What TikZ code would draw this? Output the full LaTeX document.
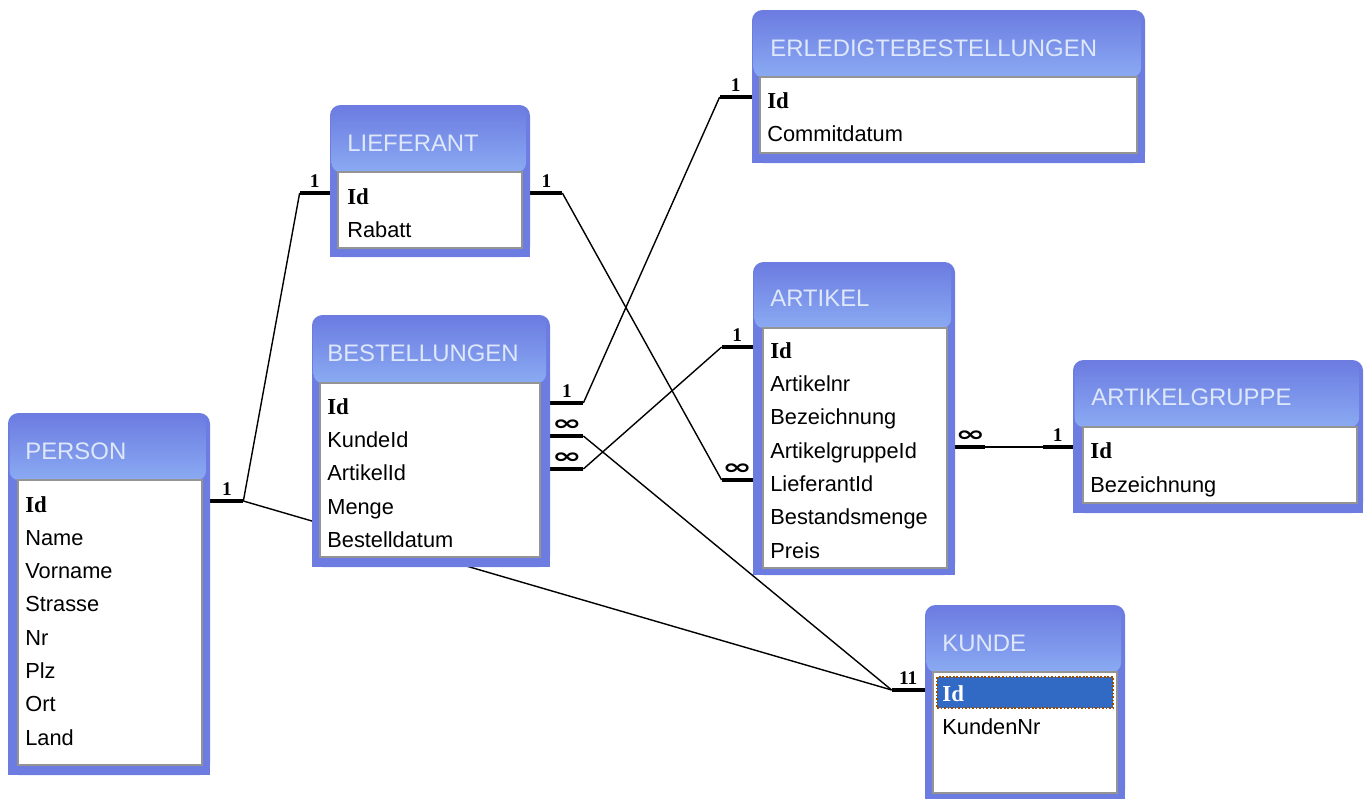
\documentclass[tikz,border=0pt]{standalone}
\usepackage{fontspec}
\setmainfont{Liberation Sans}
\newfontfamily\idfont{Liberation Serif}
\newfontfamily\manyfont{DejaVu Sans}
\usetikzlibrary{fit}
\usetikzlibrary{positioning}
\pgfdeclarelayer{background}
\pgfsetlayers{background,main}
\definecolor{tbody}{RGB}{108,124,225}
\definecolor{ttitle}{RGB}{138,170,242}
\definecolor{ttext}{RGB}{222,232,250}
\definecolor{tsel}{RGB}{49,106,197}
\tikzset{
    tablebox/.style = {inner sep=0pt, fill=tbody, rounded corners=6pt},
    titleband/.style = {rounded corners=5pt, top color=tbody, bottom color=ttitle},
    listbox/.style = {inner sep=0pt, fill=white, draw=black!42, line width=1.2pt},
    selbox/.style = {inner sep=0pt, fill=tsel, draw=orange!60!black, densely dotted, line width=1pt},
    tabletitle/.style = {anchor=west, inner sep=0pt, text height=9.7pt, text depth=0pt, font=\fontsize{13.6}{14}\selectfont, text=ttext},
    field/.style = {anchor=west, inner sep=0pt, text height=12.6pt, text depth=0pt, font=\fontsize{12.4}{13}\selectfont},
    keyfield/.style = {field, font=\idfont\bfseries\fontsize{13}{14}\selectfont},
    stub/.style = {line width=2.8pt},
    relline/.style = {line width=0.8pt},
    one/.style = {above=1.5pt, inner sep=0pt, font=\idfont\bfseries\fontsize{11}{11}\selectfont},
    many/.style = {above=2pt, inner sep=0pt, font=\manyfont\bfseries\fontsize{15}{15}\selectfont}
}
\newcommand{\manysign}{\scalebox{1.35}[0.8]{∞}}
\begin{document}
\begin{tikzpicture}[x=0.02cm, y=-0.02cm]
\useasboundingbox (0,0) rectangle (1368,798);
%
% PERSON
\node[tablebox, fit={(8,413) (210,775)}] (person) {};
\fill[tbody] (person.west) rectangle (person.south east);
\shade[titleband] ([shift={(2,2)}]person.north west) rectangle (206,480);
\node[listbox, fit={(18,480) (202,765)}] (person-list) {};
\node[tabletitle] (person-title) at (25,451) {PERSON};
\node[keyfield] (person-id) at (25,501) {Id};
\node[field] (person-name) at (25,534) {Name};
\node[field] (person-vorname) at (25,567) {Vorname};
\node[field] (person-strasse) at (25,600) {Strasse};
\node[field] (person-nr) at (25,634) {Nr};
\node[field] (person-plz) at (25,667) {Plz};
\node[field] (person-ort) at (25,700) {Ort};
\node[field] (person-land) at (25,734) {Land};
%
% LIEFERANT
\node[tablebox, fit={(330,105) (530,257)}] (lief) {};
\fill[tbody] (lief.west) rectangle (lief.south east);
\shade[titleband] ([shift={(2,2)}]lief.north west) rectangle (526,172);
\node[listbox, fit={(338,172) (522,248)}] (lief-list) {};
\node[tabletitle] (lief-title) at (347,143) {LIEFERANT};
\node[keyfield] (lief-id) at (347,193) {Id};
\node[field] (lief-rabatt) at (347,226) {Rabatt};
%
% BESTELLUNGEN
\node[tablebox, fit={(312,315) (550,567)}] (best) {};
\fill[tbody] (best.west) rectangle (best.south east);
\shade[titleband] ([shift={(2,2)}]best.north west) rectangle (546,383);
\node[listbox, fit={(320,383) (540,557)}] (best-list) {};
\node[tabletitle] (best-title) at (327,353) {BESTELLUNGEN};
\node[keyfield] (best-id) at (327,403) {Id};
\node[field] (best-kundeid) at (327,436) {KundeId};
\node[field] (best-artikelid) at (327,469) {ArtikelId};
\node[field] (best-menge) at (327,503) {Menge};
\node[field] (best-datum) at (327,536) {Bestelldatum};
%
% ERLEDIGTEBESTELLUNGEN
\node[tablebox, fit={(752,10) (1145,163)}] (erl) {};
\fill[tbody] (erl.west) rectangle (erl.south east);
\shade[titleband] ([shift={(2,2)}]erl.north west) rectangle (1141,77);
\node[listbox, fit={(760,77) (1137,153)}] (erl-list) {};
\node[tabletitle] (erl-title) at (770,48) {ERLEDIGTEBESTELLUNGEN};
\node[keyfield] (erl-id) at (767,97) {Id};
\node[field] (erl-datum) at (767,130) {Commitdatum};
%
% ARTIKEL
\node[tablebox, fit={(753,262) (955,575)}] (art) {};
\fill[tbody] (art.west) rectangle (art.south east);
\shade[titleband] ([shift={(2,2)}]art.north west) rectangle (951,328);
\node[listbox, fit={(763,328) (947,568)}] (art-list) {};
\node[tabletitle] (art-title) at (770,298) {ARTIKEL};
\node[keyfield] (art-id) at (770,347) {Id};
\node[field] (art-nr) at (770,380) {Artikelnr};
\node[field] (art-bez) at (770,413) {Bezeichnung};
\node[field] (art-gruppeid) at (770,447) {ArtikelgruppeId};
\node[field] (art-lieferantid) at (770,480) {LieferantId};
\node[field] (art-menge) at (770,513) {Bestandsmenge};
\node[field] (art-preis) at (770,547) {Preis};
%
% ARTIKELGRUPPE
\node[tablebox, fit={(1073,360) (1363,513)}] (ag) {};
\fill[tbody] (ag.west) rectangle (ag.south east);
\shade[titleband] ([shift={(2,2)}]ag.north west) rectangle (1359,427);
\node[listbox, fit={(1083,427) (1357,503)}] (ag-list) {};
\node[tabletitle] (ag-title) at (1091,397) {ARTIKELGRUPPE};
\node[keyfield] (ag-id) at (1090,447) {Id};
\node[field] (ag-bez) at (1090,481) {Bezeichnung};
%
% KUNDE
\node[tablebox, fit={(925,605) (1125,800)}] (kunde) {};
\fill[tbody] (kunde.west) rectangle (kunde.south east);
\shade[titleband] ([shift={(2,2)}]kunde.north west) rectangle (1121,672);
\node[listbox, fit={(933,672) (1117,793)}] (kunde-list) {};
\node[tabletitle] (kunde-title) at (942,643) {KUNDE};
\node[selbox, fit={(937,677) (1113,708)}] (kunde-sel) {};
\node[keyfield, text=white] (kunde-id) at (942,690) {Id};
\node[field] (kunde-nr) at (942,723) {KundenNr};
%
% relationships
\begin{pgfonlayer}{background}
\draw[stub] (person-id.west -| person.east) -- node[one] {1} ++(33,0) coordinate (person-r);
\draw[stub] (lief-id.west -| lief.west) -- node[one] {1} ++(-30,0) coordinate (lief-l);
\draw[stub] (lief-id.west -| lief.east) -- node[one] {1} ++(32,0) coordinate (lief-r);
\draw[stub] (best-id.west -| best.east) -- node[one] {1} ++(33,0) coordinate (best-r1);
\draw[stub] (best-kundeid.west -| best.east) -- node[many] {\manysign} ++(33,0) coordinate (best-r2);
\draw[stub] (best-artikelid.west -| best.east) -- node[many] {\manysign} ++(33,0) coordinate (best-r3);
\draw[stub] (erl-id.west -| erl.west) -- node[one] {1} ++(-32,0) coordinate (erl-l);
\draw[stub] (art-id.west -| art.west) -- node[one] {1} ++(-31,0) coordinate (art-l1);
\draw[stub] (art-lieferantid.west -| art.west) -- node[many] {\manysign} ++(-31,0) coordinate (art-l2);
\draw[stub] (art-gruppeid.west -| art.east) -- node[many] {\manysign} ++(30,0) coordinate (art-r);
\draw[stub] (ag-id.west -| ag.west) -- node[one] {1} ++(-30,0) coordinate (ag-l);
\draw[stub] (kunde-id.west -| kunde.west) -- node[one] {11} ++(-33,0) coordinate (kunde-l);
%
\draw[relline] (person-r) -- (lief-l);
\draw[relline] (person-r) -- (kunde-l);
\draw[relline] (best-r1) -- (erl-l);
\draw[relline] (best-r2) -- (kunde-l);
\draw[relline] (best-r3) -- (art-l1);
\draw[relline] (lief-r) -- (art-l2);
\draw[relline] (art-r) -- (ag-l);
\end{pgfonlayer}
\end{tikzpicture}
\end{document}
